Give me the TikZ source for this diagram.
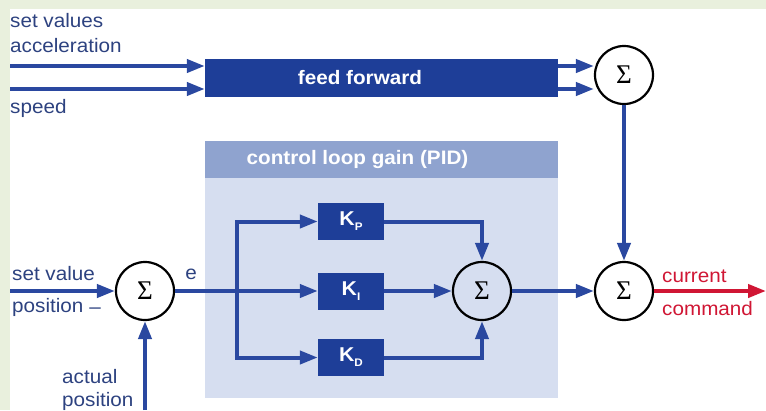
\documentclass[tikz,border=0pt]{standalone}
\usepackage{fontspec}
\setmainfont{Liberation Sans}[FakeStretch=1.06]
\newfontfamily\sigmafont{Liberation Serif}
\usetikzlibrary{arrows.meta}
\definecolor{bgreen}{RGB}{233,240,221}
\definecolor{lineblue}{RGB}{42,72,160}
\definecolor{boxblue}{RGB}{30,62,152}
\definecolor{hdrblue}{RGB}{143,163,207}
\definecolor{panelblue}{RGB}{214,222,240}
\definecolor{txtblue}{RGB}{45,66,128}
\definecolor{cmdred}{RGB}{208,22,52}
\begin{document}
\begin{tikzpicture}[x=1pt,y=-1pt,
  sum/.style={circle,draw=black,line width=2.2pt,minimum size=58pt,inner sep=0pt,font=\sigmafont\fontsize{27}{27}\selectfont},
  arr/.style={draw=lineblue,line width=4pt,-{Triangle[length=18pt,width=13pt]}},
  redarr/.style={draw=cmdred,line width=4pt,-{Triangle[length=18pt,width=13pt]}},
  gain/.style={fill=boxblue,minimum width=66pt,minimum height=37pt,inner sep=0pt,text=white,font=\bfseries\fontsize{20}{20}\selectfont},
  ffbox/.style={fill=boxblue,minimum width=353pt,minimum height=38pt,inner sep=0pt,text=white,font=\bfseries\fontsize{19.5}{19.5}\selectfont},
  panel/.style={fill=panelblue,minimum width=353pt,minimum height=257pt,inner sep=0pt},
  hdr/.style={fill=hdrblue,minimum width=353pt,minimum height=37pt,inner sep=0pt,text=white,font=\bfseries\fontsize{19.5}{19.5}\selectfont},
  lbl/.style={text=txtblue,font=\fontsize{19.5}{19.5}\selectfont,inner sep=0pt},
  redlbl/.style={text=cmdred,font=\fontsize{19.5}{19.5}\selectfont,inner sep=0pt}]
\useasboundingbox (0,0) rectangle (766,410);
\fill[bgreen] (0,0) rectangle (766,410);
\fill[white] (10,9) rectangle (766,410);

% PID panel
\node[panel] (pid) at (381.5,269.5) {};
\node[hdr,anchor=north] (hdr) at (pid.north) {\hspace*{-48pt}control loop gain (PID)};

% feed forward
\node[ffbox] (ff) at (381.5,78) {\hspace*{-43pt}feed forward};

% summing junctions
\node[sum] (s0) at (145,291) {Σ};
\node[sum] (s1) at (624,75) {Σ};
\node[sum] (s2) at (482,291) {Σ};
\node[sum] (s3) at (624,291) {Σ};

% gains
\node[gain] (kp) at (351,221.5) {K\raisebox{-5pt}{\fontsize{11}{11}\selectfont P}};
\node[gain] (ki) at (351,291) {K\raisebox{-5pt}{\fontsize{11}{11}\selectfont I}};
\node[gain] (kd) at (351,357.5) {K\raisebox{-5pt}{\fontsize{11}{11}\selectfont D}};

% coordinates
\coordinate (a1) at (10,66);
\coordinate (a2) at (10,89);
\coordinate (sv) at (10,291);
\coordinate (ap) at (145,410);
\coordinate (br) at (237,291);
\coordinate (out) at (766,291);

% connectors
\draw[arr] (a1) -- (a1 -| ff.west);
\draw[arr] (a2) -- (a2 -| ff.west);
\draw[arr] (ff.east |- a1) -- (a1 -| s1.west);
\draw[arr] (ff.east |- a2) -- (a2 -| s1.west);
\draw[arr] (s1.south) -- (s3.north);
\draw[arr] (sv) -- (s0.west);
\draw[arr] (ap) -- (s0.south);
\draw[arr] (s0.east) -- (ki.west);
\draw[arr] (br) |- (kp.west);
\draw[arr] (br) |- (kd.west);
\draw[arr] (kp.east) -| (s2.north);
\draw[arr] (kd.east) -| (s2.south);
\draw[arr] (ki.east) -- (s2.west);
\draw[arr] (s2.east) -- (s3.west);
\draw[redarr] (s3.east) -- (out);

% labels
\node[lbl,anchor=base west] (l1) at (10,27) {set values};
\node[lbl,anchor=base west] (l2) at (10,52) {acceleration};
\node[lbl,anchor=base west] (l3) at (10,113) {speed};
\node[lbl,anchor=base west] (l4) at (12,280) {set value};
\node[lbl,anchor=base west] (l5) at (12,312) {position};
\node[lbl] (minus) at (95,311) {–};
\node[lbl] (e) at (191,274) {e};
\node[lbl,anchor=base west] (l6) at (62,383) {actual};
\node[lbl,anchor=base west] (l7) at (62,406) {position};
\node[redlbl,anchor=base west] (c1) at (662,282) {current};
\node[redlbl,anchor=base west] (c2) at (662,315) {command};
\end{tikzpicture}
\end{document}
